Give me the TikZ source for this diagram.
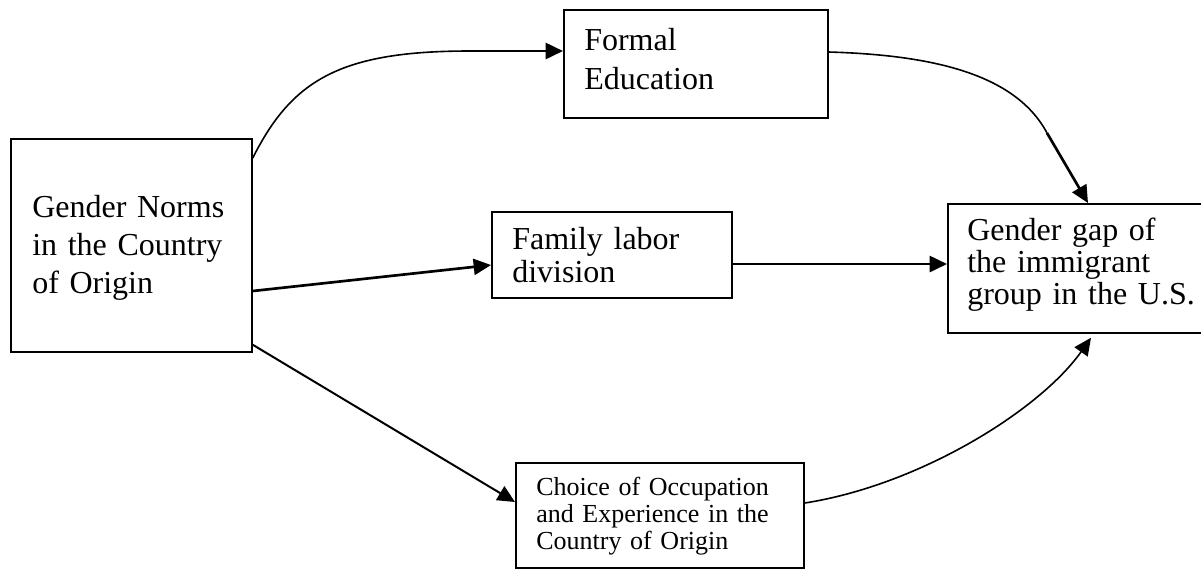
\documentclass[tikz,border=0pt]{standalone}
\usepackage{fontspec}
\setmainfont{Liberation Serif}
\usetikzlibrary{arrows.meta,calc}
\tikzset{
  boxnode/.style={draw, line width=1.3pt, inner sep=0pt, anchor=north west},
  txt/.style={inner sep=0pt, anchor=base west, text width=220pt, align=left},
  tip/.style={-{Triangle[length=13pt,width=12pt]}},
  curveline/.style={line width=1.2pt},
  heavyline/.style={line width=2pt},
  midline/.style={line width=1.5pt}
}
\begin{document}
\begin{tikzpicture}[x=0.75pt,y=-0.75pt]
\useasboundingbox (0,0) rectangle (1201,569);
\clip (0,0) rectangle (1201,569);
% boxes
\node[boxnode, minimum width=180.75pt, minimum height=159.75pt] (L) at (10,138) {};
\node[boxnode, minimum width=198pt, minimum height=81pt] (F) at (563,9) {};
\node[boxnode, minimum width=180pt, minimum height=64.5pt] (M) at (491,211) {};
\node[boxnode, minimum width=210pt, minimum height=96.75pt] (G) at (947,203) {};
\node[boxnode, minimum width=216pt, minimum height=78.75pt] (C) at (515,462) {};
% texts
\node[txt, font=\fontsize{24}{28.5}\selectfont] (Lt) at (32,217) {Gender Norms\\in the Country\\of Origin};
\node[txt, font=\fontsize{24}{29.25}\selectfont] (Ft) at (584,50) {Formal\\Education};
\node[txt, font=\fontsize{24}{24.75}\selectfont] (Mt) at (512,249) {Family labor\\division};
\node[txt, font=\fontsize{24}{24}\selectfont] (Gt) at (967,240) {Gender gap of\\the immigrant\\group in the U.S.};
\node[txt, font=\fontsize{19.5}{20.6}\selectfont] (Ct) at (536,495) {Choice of Occupation\\and Experience in the\\Country of Origin};
% connector points
\coordinate (lf) at (470,51);
\coordinate (fg) at (1047,133);
% connectors
\draw[curveline] ($(L.north east)+(0,20)$) .. controls (292,80) and (340,51) .. (lf);
\draw[heavyline, tip] (lf) -- ($(F.north west)+(0,42)$);
\draw[curveline] ($(F.north east)+(0,43)$) .. controls (930,55) and (1015,73) .. (fg);
\draw[heavyline, tip] (fg) -- ($(G.north west)+(141,0)$);
\draw[heavyline, tip] ($(L.north east)+(0,153)$) -- ($(M.north west)+(0,54)$);
\draw[heavyline, tip] ($(M.north east)+(0,53)$) -- ($(G.north west)+(0,61)$);
\draw[midline, tip] ($(L.south east)+(0,-8)$) -- ($(C.north west)+(0,40)$);
\draw[curveline, tip] ($(C.north east)+(0,41)$) .. controls (920,485) and (1040,410) .. ($(G.south west)+(144,4)$);
\end{tikzpicture}
\end{document}
